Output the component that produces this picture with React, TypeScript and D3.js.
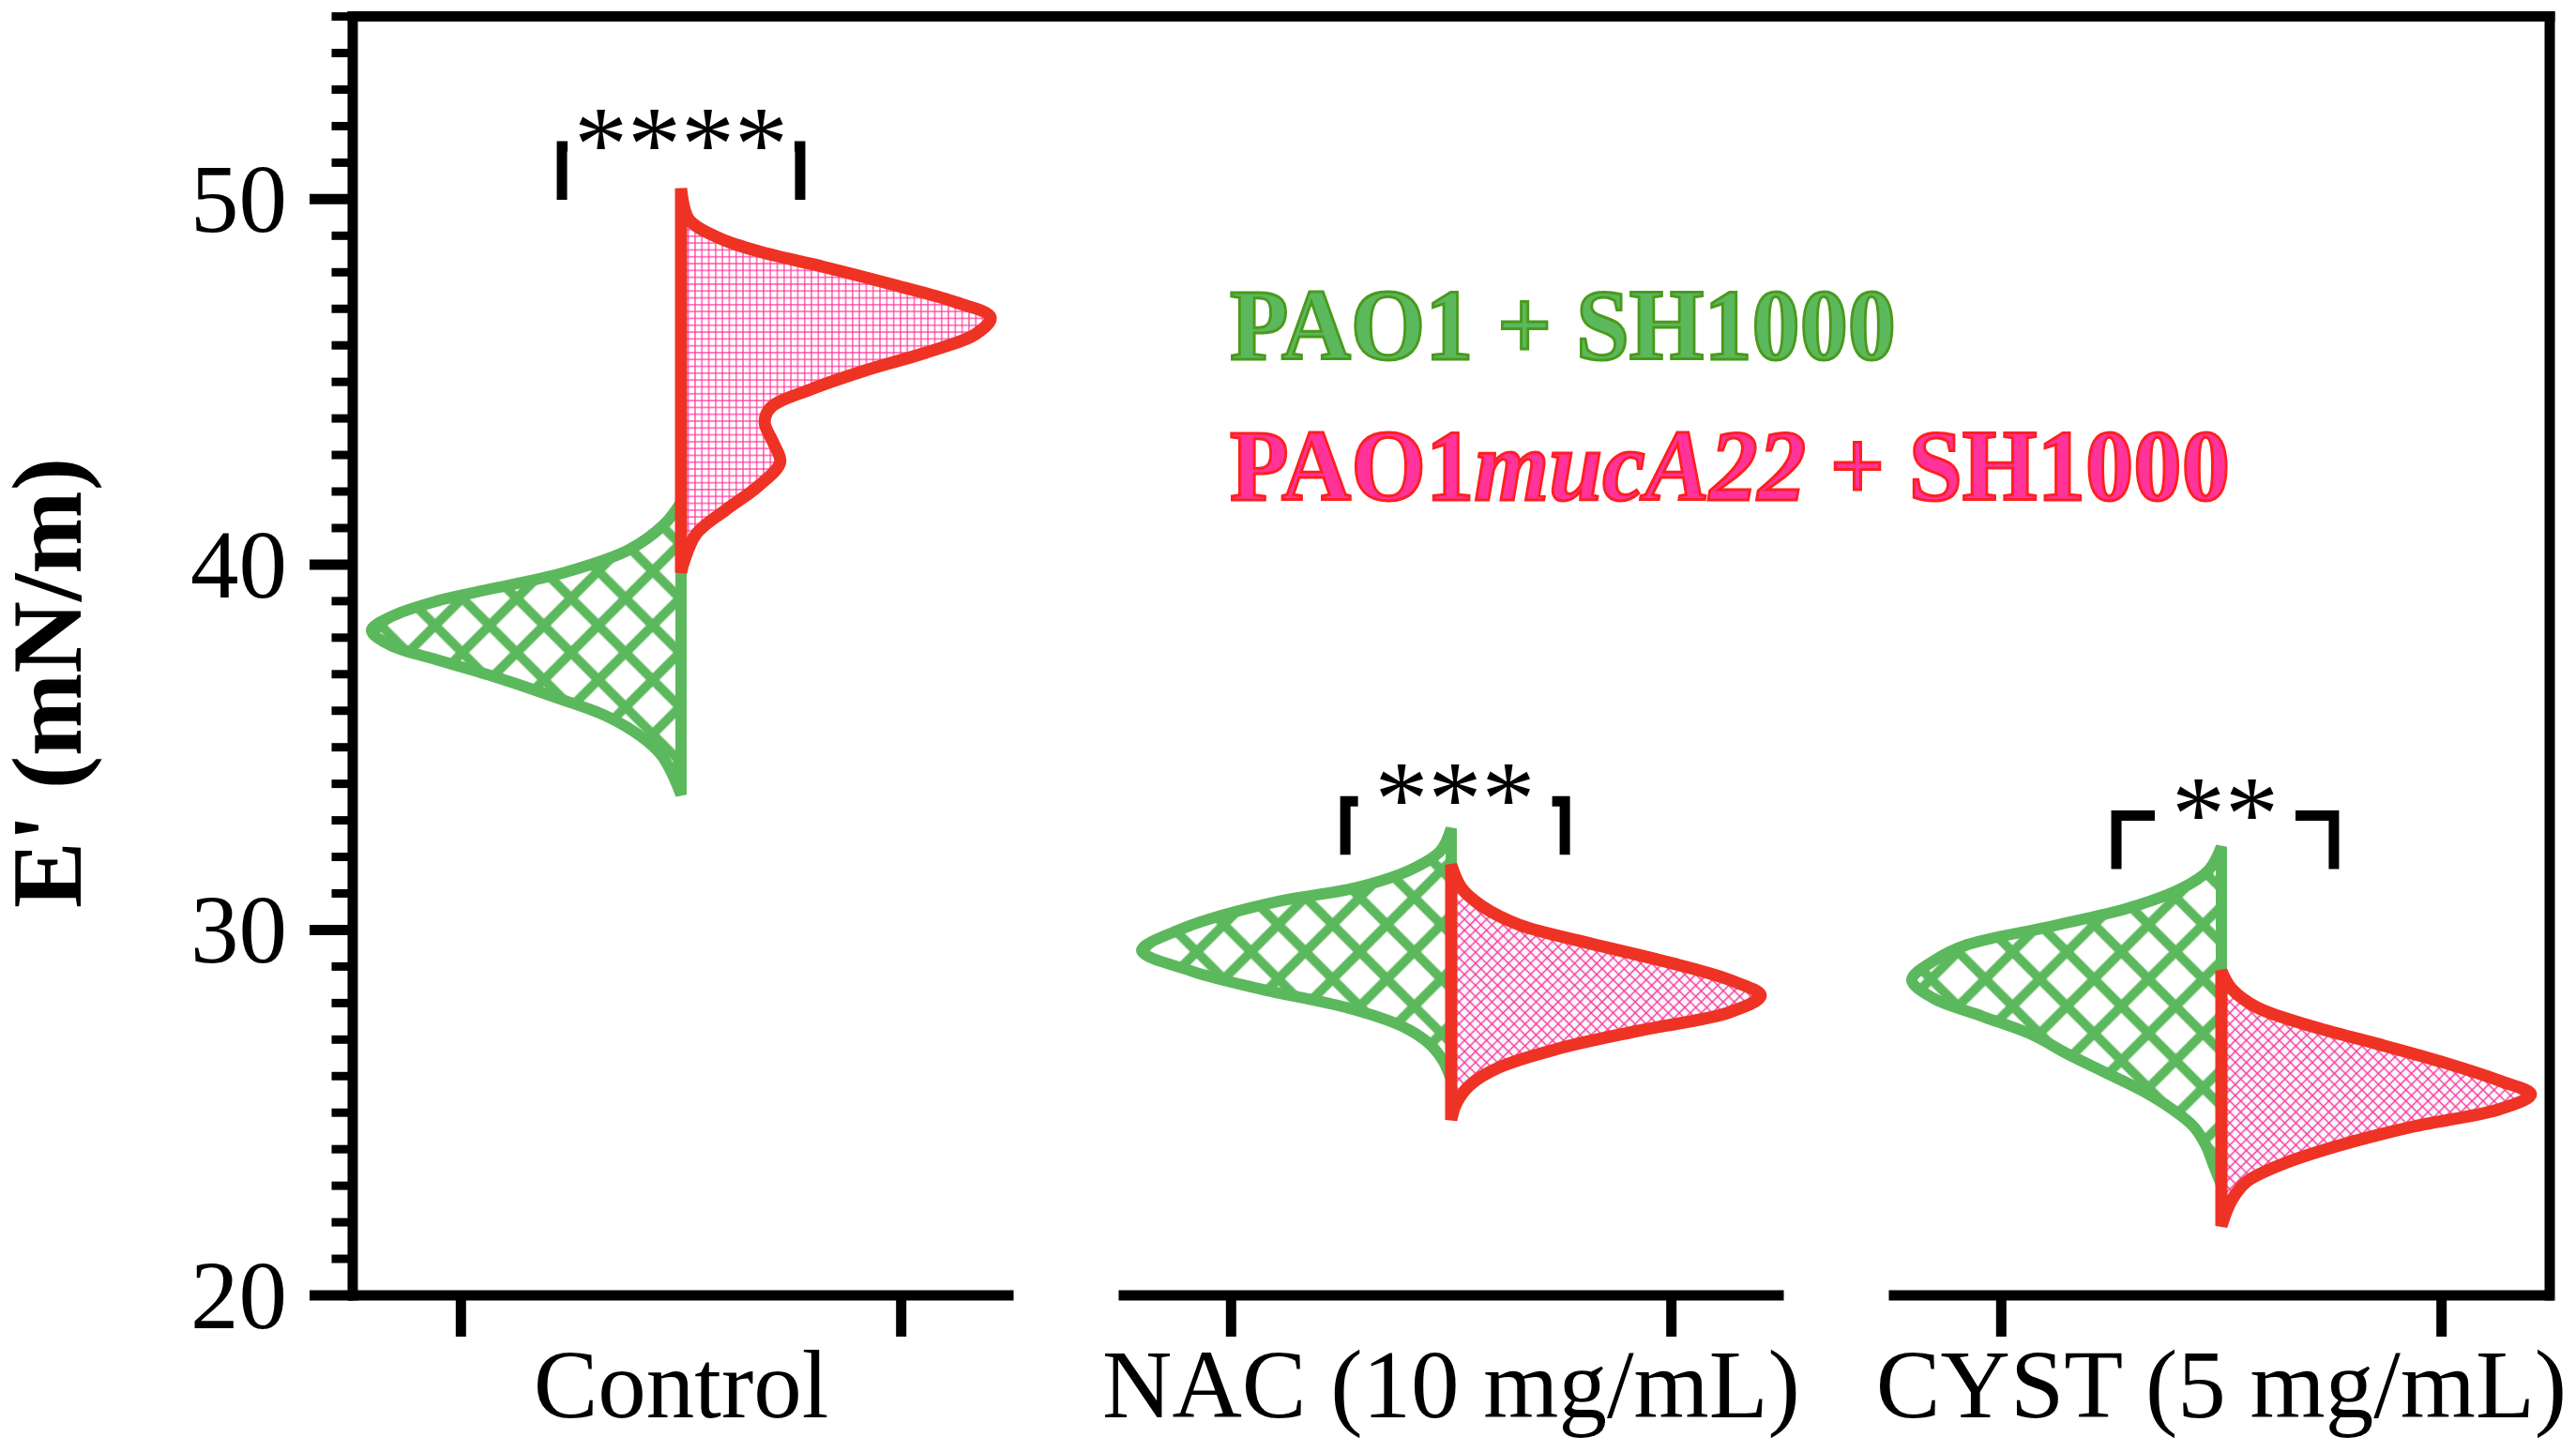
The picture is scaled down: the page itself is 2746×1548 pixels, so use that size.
import React from 'react';
import * as d3 from 'd3';

// ---------- data ----------
const groups = ['Control', 'NAC (10 mg/mL)', 'CYST (5 mg/mL)'];
const seriesNames = ['PAO1 + SH1000', 'PAO1mucA22 + SH1000'];
const yMajorTicks = [20, 30, 40, 50];

// [E' value, relative density (peak = 1)]
const controlPAO1 = [[33.7,0],[34.3,0.03],[34.8,0.065],[35.3,0.13],[35.85,0.24],[36.35,0.4],[36.9,0.59],[37.4,0.79],[37.8,0.94],[38.2,1.0],[38.6,0.93],[39.0,0.79],[39.25,0.66],[39.5,0.52],[39.8,0.37],[40.4,0.17],[41.1,0.055],[41.7,0]];
const controlMucA22 = [[39.78,0],[40.1,0.01],[40.85,0.05],[41.5,0.145],[42.15,0.25],[42.8,0.32],[43.3,0.3],[43.9,0.27],[44.3,0.29],[44.8,0.42],[45.3,0.59],[45.8,0.79],[46.3,0.95],[46.76,1.0],[47.2,0.88],[47.65,0.69],[48.15,0.46],[48.55,0.26],[48.95,0.12],[49.45,0.025],[50.3,0]];
const nacPAO1 = [[25.9,0],[26.4,0.025],[26.88,0.07],[27.37,0.16],[27.88,0.34],[28.39,0.62],[28.88,0.84],[29.44,1.0],[30.0,0.88],[30.4,0.74],[30.8,0.55],[31.15,0.31],[31.65,0.13],[32.16,0.035],[32.78,0]];
const nacMucA22 = [[24.8,0],[25.23,0.015],[25.75,0.06],[26.24,0.155],[26.75,0.345],[27.25,0.61],[27.75,0.9],[28.2,1.0],[28.63,0.9],[29.14,0.69],[29.65,0.44],[30.14,0.22],[30.65,0.1],[31.15,0.033],[31.78,0]];
const cystPAO1 = [[23.03,0],[23.6,0.027],[24.1,0.05],[24.62,0.09],[25.1,0.16],[25.62,0.26],[26.12,0.38],[26.62,0.5],[27.13,0.61],[27.63,0.77],[28.13,0.93],[28.63,1.0],[29.15,0.93],[29.6,0.82],[30.1,0.55],[30.6,0.3],[31.13,0.13],[31.65,0.04],[32.28,0]];
const cystMucA22 = [[21.9,0],[22.6,0.033],[23.1,0.08],[23.6,0.2],[24.1,0.38],[24.62,0.62],[25.1,0.9],[25.5,1.0],[25.87,0.9],[26.37,0.72],[26.87,0.51],[27.37,0.29],[27.88,0.115],[28.39,0.033],[28.88,0]];

const pao1Series = [controlPAO1, nacPAO1, cystPAO1];
const mucA22Series = [controlMucA22, nacMucA22, cystMucA22];

// significance brackets
const sigLabels = ['****', '***', '**'];
const sigLevel = [51.45, 33.52, 33.13];
const sigSpan = [[-0.541, 0.541], [-0.481, 0.516], [-0.477, 0.511]];

// ---------- style ----------
const FONT = "'Liberation Serif', 'Times New Roman', Times, serif";
const GREEN = '#5cb85c';
const GREEN_DARK = '#4a9a1c';
const RED = '#ee3224';
const PINK = '#ff3399';

export default function App() {
  const W = 2746, H = 1548;
  const y = d3.scaleLinear().domain([20, 55]).range([1381, 17.6]);
  const x = d3.scaleBand<string>().domain(groups).range([371.5, 2722.5]).paddingInner(0.1364).paddingOuter(0);
  const bw = x.bandwidth();
  const sub = d3.scaleLinear().domain([-1, 1]).range([-0.331 * bw, 0.331 * bw]);
  const wScale = d3.scaleLinear().domain([0, 1]).range([0, 330]);
  const center = (g: string) => (x(g) as number) + bw / 2;
  const yAxisX = 376;
  const rightX = 2718;
  const axisY = y(20);
  const topY = y(55);

  const halfArea = (cx: number, side: number) =>
    d3.area<number[]>()
      .curve(d3.curveCatmullRom.alpha(0.5))
      .y(d => y(d[0]))
      .x0(cx)
      .x1(d => cx + side * wScale(d[1]));

  const minorTicks = d3.range(21, 56, 1).filter(v => v % 10 !== 0);
  const astSize = 114;

  return (
    <svg width={W} height={H} viewBox={`0 0 ${W} ${H}`}
      style={{ position: 'absolute', left: 0, top: 0, display: 'block', background: '#fff' }}>
      <defs>
        <pattern id="greenHatch" patternUnits="userSpaceOnUse" width={41} height={41} patternTransform="rotate(45)">
          <rect width={41} height={41} fill="#fff" />
          <line x1={0} y1={20.5} x2={41} y2={20.5} stroke={GREEN} strokeWidth={10} />
          <line x1={20.5} y1={0} x2={20.5} y2={41} stroke={GREEN} strokeWidth={10} />
        </pattern>
        <pattern id="pinkGrid" patternUnits="userSpaceOnUse" width={7.3} height={7.3}>
          <rect width={7.3} height={7.3} fill="#fff" />
          <line x1={0} y1={3.65} x2={7.3} y2={3.65} stroke={PINK} strokeWidth={1.2} />
          <line x1={3.65} y1={0} x2={3.65} y2={7.3} stroke={PINK} strokeWidth={1.2} />
        </pattern>
        <pattern id="pinkCross" patternUnits="userSpaceOnUse" width={8.3} height={8.3} patternTransform="rotate(45)">
          <rect width={8.3} height={8.3} fill="#f6f9fc" />
          <line x1={0} y1={4.15} x2={8.3} y2={4.15} stroke={PINK} strokeWidth={1.4} />
          <line x1={4.15} y1={0} x2={4.15} y2={8.3} stroke={PINK} strokeWidth={1.4} />
        </pattern>
      </defs>

      {/* violins: PAO1 (left, green) */}
      {groups.map((g, i) => (
        <path key={'g' + i} d={halfArea(center(g), -1)(pao1Series[i]) || ''}
          fill="url(#greenHatch)" stroke={GREEN} strokeWidth={12} />
      ))}
      {/* violins: PAO1mucA22 (right, red) */}
      {groups.map((g, i) => (
        <path key={'r' + i} d={halfArea(center(g), 1)(mucA22Series[i]) || ''}
          fill={i === 0 ? 'url(#pinkGrid)' : 'url(#pinkCross)'} stroke={RED} strokeWidth={13} />
      ))}

      {/* frame / axes */}
      <line x1={yAxisX - 5.5} y1={topY} x2={rightX + 5.5} y2={topY} stroke="#000" strokeWidth={11} />
      <line x1={rightX} y1={topY - 5.5} x2={rightX} y2={axisY + 5.5} stroke="#000" strokeWidth={11} />
      <line x1={yAxisX} y1={topY - 5.5} x2={yAxisX} y2={axisY + 5.5} stroke="#000" strokeWidth={11} />
      {minorTicks.map(v => (
        <line key={'mt' + v} x1={353.5} x2={yAxisX} y1={y(v)} y2={y(v)} stroke="#000" strokeWidth={9} />
      ))}
      {yMajorTicks.map(v => (
        <g key={'yt' + v}>
          <line x1={330} x2={yAxisX} y1={y(v)} y2={y(v)} stroke="#000" strokeWidth={11} />
          <text x={306} y={y(v) + 0.338 * 103} textAnchor="end" fontFamily={FONT} fontSize={103} fill="#000">{v}</text>
        </g>
      ))}
      {groups.map((g, i) => {
        const x0 = x(g) as number;
        const cx = center(g);
        return (
          <g key={'xa' + i}>
            <line x1={x0} x2={x0 + bw} y1={axisY} y2={axisY} stroke="#000" strokeWidth={11} />
            {[-1, 1].map(s => (
              <line key={s} x1={cx + sub(s)} x2={cx + sub(s)} y1={axisY} y2={axisY + 44} stroke="#000" strokeWidth={11} />
            ))}
            <text x={cx} y={1511} textAnchor="middle" fontFamily={FONT} fontSize={103} fill="#000">{g}</text>
          </g>
        );
      })}

      {/* y title */}
      <text transform={`translate(86, 728) rotate(-90)`} textAnchor="middle" fontFamily={FONT}
        fontWeight="bold" fontSize={106} fill="#000">E' (mN/m)</text>

      {/* significance brackets */}
      {groups.map((g, i) => {
        const cx = center(g);
        const xl = cx + sub(sigSpan[i][0]);
        const xr = cx + sub(sigSpan[i][1]);
        const ly = y(sigLevel[i]);
        const mid = (xl + xr) / 2;
        const tw = sigLabels[i].length * 0.5 * astSize;
        const half = Math.min(tw / 2 + 18, (xr - xl) / 2 - 6);
        return (
          <g key={'sig' + i}>
            <path d={`M${xl},${ly + 57} V${ly} H${xr} V${ly + 57}`} fill="none" stroke="#000" strokeWidth={11} />
            <rect x={mid - half} y={ly - 9} width={half * 2} height={18} fill="#fff" />
            <text x={mid} y={ly - 17 + 0.465 * astSize} textAnchor="middle" fontFamily={FONT}
              fontSize={astSize} fill="#000">{sigLabels[i]}</text>
          </g>
        );
      })}

      {/* legend */}
      <text x={1311} y={383} fontFamily={FONT} fontWeight="bold" fontSize={108}
        textLength={710} lengthAdjust="spacingAndGlyphs"
        fill={GREEN} stroke={GREEN_DARK} strokeWidth={3}>{seriesNames[0]}</text>
      <text x={1311} y={533} fontFamily={FONT} fontWeight="bold" fontSize={108}
        textLength={1066} lengthAdjust="spacingAndGlyphs"
        fill={PINK} stroke="#ff1f1f" strokeWidth={3}>
        <tspan>PAO1</tspan><tspan fontStyle="italic">mucA22</tspan><tspan> + SH1000</tspan>
      </text>
    </svg>
  );
}
